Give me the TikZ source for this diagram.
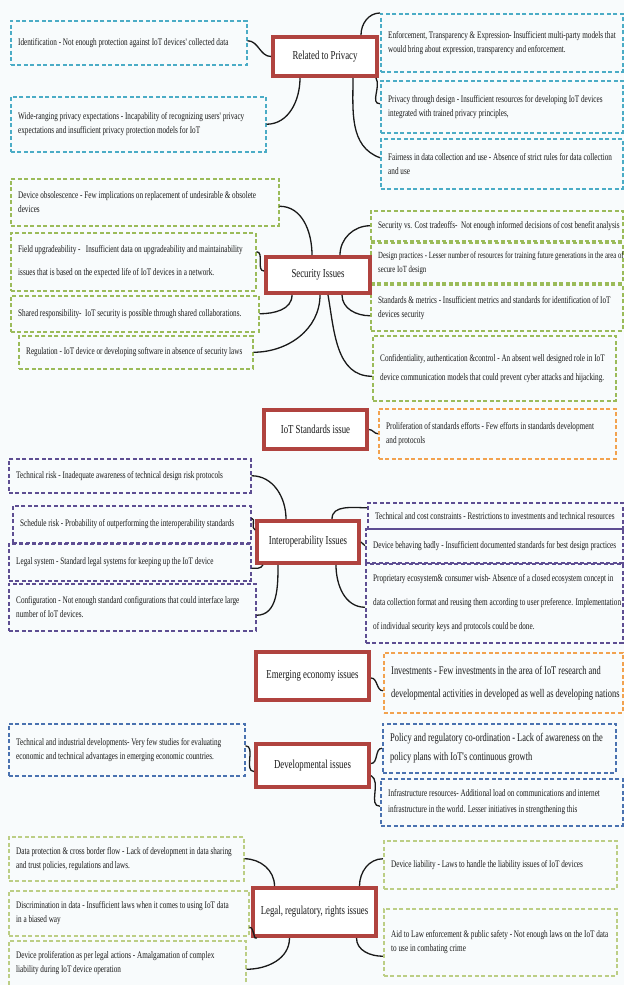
\documentclass[tikz,border=0pt]{standalone}
\usepackage{fontspec}
\setmainfont{Liberation Serif}
\newfontfamily\cf[FakeStretch=0.72]{Liberation Serif}
\usetikzlibrary{calc}
\definecolor{bg}{HTML}{F8FBFC}
\definecolor{pblue}{HTML}{4BACC6}
\definecolor{sgreen}{HTML}{9BBB59}
\definecolor{lgreen}{HTML}{BCCE85}
\definecolor{orng}{HTML}{F2A24F}
\definecolor{purp}{HTML}{5E4E92}
\definecolor{dblue}{HTML}{4A72B0}
\definecolor{cred}{HTML}{B0433F}
\newcommand\infobox[8][]{%
  \node[bxs,draw=#3,minimum width=#6pt,minimum height=#7pt] (#2) at (#4,#5) {};
  \node[btx,#1] (#2t) at ([xshift=8pt]#2.west) {#8};}
\begin{document}
\begin{tikzpicture}[x=1pt,y=-1pt,
  bxs/.style={anchor=north west, line width=1.5pt, dash pattern=on 4pt off 2.5pt, inner sep=0pt},
  btx/.style={anchor=west, align=left, inner sep=0pt, font=\cf\fontsize{10}{14}\selectfont, text=black!90},
  fs/.style 2 args={font=\cf\fontsize{#1}{#2}\selectfont},
  cbox/.style={draw=cred, line width=4pt, fill=white, anchor=north west, inner sep=0pt,
    font=\cf\fontsize{12.2}{14}\selectfont, text=black!90},
  csz/.style 2 args={minimum width=#1, minimum height=#2},
  conn/.style={draw=black!90, line width=1.3pt}]
\fill[bg] (0,0) rectangle (624,985);
\useasboundingbox (0,0) rectangle (624,985);

% ---------------- Related to Privacy
\infobox{pl1}{pblue}{10}{20}{236}{44}{Identification - Not enough protection against IoT devices' collected data}
\infobox{pl2}{pblue}{10}{96}{255}{55}{Wide-ranging privacy expectations - Incapability of recognizing users' privacy\\expectations and insufficient privacy protection models for IoT}
\infobox{pr1}{pblue}{380}{13}{242}{58}{Enforcement, Transparency \& Expression- Insufficient multi-party models that\\would bring about expression, transparency and enforcement.}
\infobox{pr2}{pblue}{380}{80}{242}{52}{Privacy through design - Insufficient resources for developing IoT devices\\integrated with trained privacy principles,}
\infobox{pr3}{pblue}{380}{138}{242}{50}{Fairness in data collection and use - Absence of strict rules for data collection\\and use}
\node[cbox,csz={104pt}{39pt}] (cp) at (271,35) {Related to Privacy};

\draw[conn] ([yshift=2pt]pl1.east) to[out=0,in=180] ([yshift=0pt]cp.west);
\draw[conn] (pl2.east) to[out=0,in=-90] ([xshift=-25pt]cp.south);
\draw[conn] ([xshift=36pt]cp.north) to[out=90,in=180] (pr1.north west);
\draw[conn] ([xshift=-3pt]cp.south east) to[out=-60,in=180] ([yshift=3pt]pr2.west);
\draw[conn] ([xshift=28pt]cp.south) to[out=-90,in=160] ([yshift=6pt]pr3.west);

% ---------------- Security Issues
\infobox{sl1}{sgreen}{10}{178}{268}{47}{Device obsolescence - Few implications on replacement of undesirable \& obsolete\\devices}
\infobox[fs={10}{23}]{sl2}{sgreen}{10}{232}{245}{58}{Field upgradeability - \ \ Insufficient data on upgradeability and maintainability\\issues that is based on the expected life of IoT devices in a network.}
\infobox{sl3}{sgreen}{10}{295}{248}{36}{Shared responsibility- \ IoT security is possible through shared collaborations.}
\infobox{sl4}{sgreen}{18}{335}{234}{33}{Regulation - IoT device or developing software in absence of security laws}
\infobox{sr1}{sgreen}{370}{210}{252}{30}{Security vs. Cost tradeoffs- \ Not enough informed decisions of cost benefit analysis}
\infobox[fs={9.4}{14}]{sr2}{sgreen}{370}{242}{252}{40}{Design practices - Lesser number of resources for training future generations in the area of\\secure IoT design}
\infobox{sr3}{sgreen}{370}{284}{252}{46}{Standards \& metrics - Insufficient metrics and standards for identification of IoT\\devices security}
\infobox[fs={10}{19}]{sr4}{sgreen}{372}{335}{243}{65}{Confidentiality, authentication \&control - An absent well designed role in IoT\\device communication models that could prevent cyber attacks and hijacking.}
\node[cbox,csz={104pt}{36pt}] (sc) at (264,255) {Security Issues};

\draw[conn] ([yshift=-4pt]sl1.east) to[out=0,in=90] ([xshift=-6pt]sc.north);
\draw[conn] (sr1.west) to[out=180,in=90] ([xshift=22pt]sc.north);
\draw[conn] ([yshift=10pt]sl2.east) to[out=0,in=180] ([yshift=4pt]sc.west);
\draw[conn] (sl3.east) to[out=0,in=-90] ([xshift=-26pt]sc.south);
\draw[conn] (sl4.east) to[out=0,in=-90] ([xshift=2pt]sc.south);
\draw[conn] ([xshift=24pt]sc.south) to[out=-90,in=180] ([yshift=-8pt]sr3.west);
\draw[conn] ([xshift=10pt]sc.south) to[out=-80,in=180] ([yshift=-8pt]sr4.west);

% ---------------- IoT Standards issue
\infobox{prol}{orng}{378}{408}{237}{50}{Proliferation of standards efforts - Few efforts in standards development\\and protocols}
\node[cbox,csz={103pt}{39pt}] (ic) at (262,408) {IoT Standards issue};
\draw[conn] (ic.east) to[out=0,in=180] (prol.west);

% ---------------- Interoperability Issues
\infobox{il1}{purp}{8}{458}{242}{34}{Technical risk - Inadequate awareness of technical design risk protocols}
\infobox{il2}{purp}{12}{505}{238}{37}{Schedule risk - Probability of outperforming the interoperability standards}
\infobox{il3}{purp}{8}{543}{242}{37}{Legal system - Standard legal systems for keeping up the IoT device}
\infobox{il4}{purp}{8}{583}{247}{47}{Configuration - Not enough standard configurations that could interface large\\number of IoT devices.}
\infobox{ir1}{purp}{367}{502}{255}{26}{Technical and cost constraints - Restrictions to investments and technical resources}
\infobox{ir2}{purp}{365}{528}{257}{34}{Device behaving badly - Insufficient documented standards for best design practices}
\infobox[fs={10}{24}]{ir3}{purp}{365}{563}{257}{79}{Proprietary ecosystem\& consumer wish- Absence of a closed ecosystem concept in\\data collection format and reusing them according to user preference. Implementation\\of individual security keys and protocols could be done.}
\node[cbox,csz={102pt}{42pt}] (io) at (255,519) {Interoperability Issues};

\draw[conn] (il1.east) to[out=0,in=90] ([xshift=-22pt]io.north);
\draw[conn] ([yshift=6pt]il2.east) to[out=0,in=160] ([yshift=12pt]io.west);
\draw[conn] ([yshift=-6pt]il3.east) to[out=0,in=-120] ([xshift=8pt]io.south west);
\draw[conn] ([yshift=-8pt]il4.east) to[out=0,in=-90] ([xshift=-30pt]io.south);
\draw[conn] ([xshift=24pt]io.north) to[out=90,in=180] ([yshift=8pt]ir1.west);
\draw[conn] (io.east) to[out=0,in=180] (ir2.west);
\draw[conn] ([xshift=28pt]io.south) to[out=-90,in=180] ([yshift=-4pt]ir3.west);

% ---------------- Emerging economy issues
\infobox[fs={11.7}{23}]{inv}{orng}{383}{652}{239}{60}{Investments - Few investments in the area of IoT research and\\developmental activities in developed as well as developing nations}
\node[cbox,csz={113pt}{48pt}] (ec) at (254,650) {Emerging economy issues};
\draw[conn] ([yshift=-2pt]ec.east) to[out=0,in=180] ([yshift=-8pt]inv.west);

% ---------------- Developmental issues
\infobox{dl1}{dblue}{8}{723}{236}{52}{Technical and industrial developments- Very few studies for evaluating\\economic and technical advantages in emerging economic countries.}
\infobox[fs={11.7}{19}]{dr1}{dblue}{382}{723}{233}{49}{Policy and regulatory co-ordination - Lack of awareness on the\\policy plans with IoT's continuous growth}
\infobox[fs={10}{16}]{dr2}{dblue}{380}{778}{242}{47}{Infrastructure resources- Additional load on communications and internet\\infrastructure in the world. Lesser initiatives in strengthening this}
\node[cbox,csz={113pt}{43pt}] (dc) at (254,742) {Developmental issues};

\draw[conn] ([yshift=4pt]dl1.east) to[out=0,in=180] ([yshift=-6pt]dc.west);
\draw[conn] ([yshift=2pt]dc.east) to[out=0,in=180] ([yshift=0pt]dr1.west);
\draw[conn] ([yshift=-10pt]dc.east) to[out=-30,in=180] ([yshift=-4pt]dr2.west);

% ---------------- Legal, regulatory, rights issues
\infobox{gl1}{lgreen}{8}{836}{235}{44}{Data protection \& cross border flow - Lack of development in data sharing\\and trust policies, regulations and laws.}
\infobox{gl2}{lgreen}{8}{890}{240}{45}{Discrimination in data - Insufficient laws when it comes to using IoT data\\in a biased way}
\infobox{gl3}{lgreen}{8}{940}{237}{45}{Device proliferation as per legal actions - Amalgamation of complex\\liability during IoT device operation}
\infobox{gr1}{lgreen}{383}{840}{233}{48}{Device liability - Laws to handle the liability issues of IoT devices}
\infobox{gr2}{lgreen}{383}{908}{233}{67}{Aid to Law enforcement \& public safety - Not enough laws on the IoT data\\to use in combating crime}
\node[cbox,csz={123pt}{48pt}] (gc) at (251,886) {Legal, regulatory, rights issues};

\draw[conn] (gl1.east) to[out=0,in=90] ([xshift=-40pt]gc.north);
\draw[conn] ([xshift=45pt]gc.north) to[out=90,in=180] ([yshift=6pt]gr1.west);
\draw[conn] ([yshift=-14pt]gl2.east) to[out=0,in=-135] ([xshift=6pt]gc.south west);
\draw[conn] ([yshift=-6pt]gl3.east) to[out=0,in=-90] ([xshift=-25pt]gc.south);
\draw[conn] ([xshift=42pt]gc.south) to[out=-90,in=180] ([yshift=-14pt]gr2.west);
\end{tikzpicture}
\end{document}
